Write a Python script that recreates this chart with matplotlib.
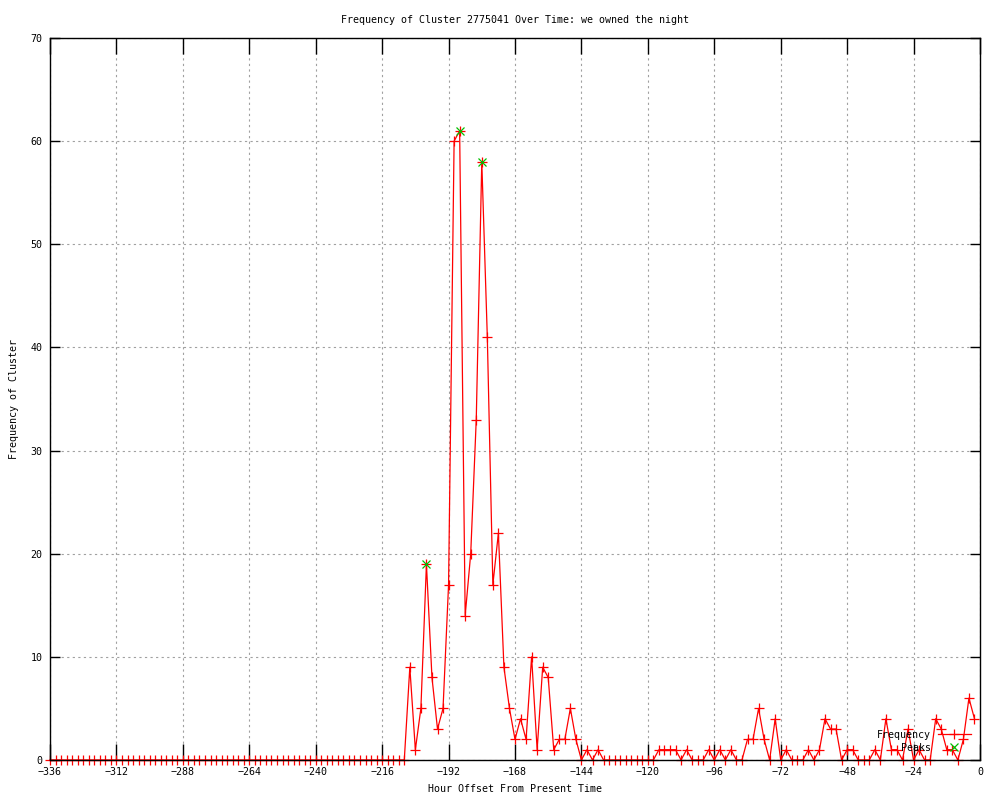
import numpy as np
import matplotlib
matplotlib.use('Agg')
import matplotlib.pyplot as plt

plt.rcParams['font.family'] = ['DejaVu Sans Mono']
plt.rcParams['font.size'] = 7.2

# hour offsets, every 2 hours from -336 to -2
hours = list(range(-336, 0, 2))

# frequency per 2-hour bin
freq_left = [0] * 64          # -336 .. -210
freq_mid = [0, 9, 1, 5, 19, 8, 3, 5, 17, 60, 61, 14, 20, 33, 58, 41, 17, 22,   # -208 .. -174
            9, 5, 2, 4, 2, 10, 1, 9, 8, 1, 2, 2, 5, 2, 0, 1, 0, 1]              # -172 .. -138
freq_zero = [0] * 10          # -136 .. -118
freq_right = [1, 1, 1, 1, 0, 1, 0, 0, 0, 1, 0, 1, 0, 1, 0, 0,                   # -116 .. -86
              2, 2, 5, 2, 0, 4, 0, 1, 0, 0, 0, 1, 0, 1, 4, 3, 3, 0,            # -84 .. -50
              1, 1, 0, 0, 0, 1, 0, 4, 1, 1, 0, 3, 0, 1, 0, 0,                  # -48 .. -18
              4, 3, 1, 1, 0, 2, 6, 4]                                          # -16 .. -2
freq = freq_left + freq_mid + freq_zero + freq_right

peak_hours = [-200, -188, -180]
peak_freq = [19, 61, 58]

title = 'Frequency of Cluster 2775041 Over Time: we owned the night'
xticks = list(range(-336, 1, 24))
yticks = list(range(0, 71, 10))

fig = plt.figure(figsize=(10, 8), dpi=100)
ax = fig.add_axes([0.05, 0.05, 0.93, 0.9025])

ax.plot(hours, freq, color='#ff0000', linewidth=0.9, marker='+', markersize=7,
        markeredgewidth=0.9, label='Frequency', clip_on=False, zorder=2)
ax.plot(peak_hours, peak_freq, linestyle='none', color='#00c000', marker='x',
        markersize=5.5, markeredgewidth=0.9, label='Peaks', clip_on=False, zorder=3)

ax.set_xlim(-336, 0)
ax.set_ylim(0, 70)
ax.set_xticks(xticks)
ax.set_yticks(yticks)
ax.tick_params(axis='x', direction='in', length=11.5, width=1, top=True, pad=5)
ax.tick_params(axis='y', direction='in', length=7, width=1, right=True, pad=5.5)
for s in ax.spines.values():
    s.set_linewidth(1)
ax.grid(True, color='#a0a0a0', linestyle=(0, (2, 3)), linewidth=0.8)
ax.set_axisbelow(True)

ax.set_title(title, fontsize=7.2, pad=11)
ax.set_xlabel('Hour Offset From Present Time', labelpad=5)
ax.set_ylabel('Frequency of Cluster', labelpad=8)

ax.legend(loc='upper right', bbox_to_anchor=(0.99, 0.042), frameon=False,
          markerfirst=False, handlelength=3.3, handletextpad=0.7,
          labelspacing=0.3, borderpad=0, borderaxespad=0, numpoints=1)

fig.savefig('out.png', dpi=100)
